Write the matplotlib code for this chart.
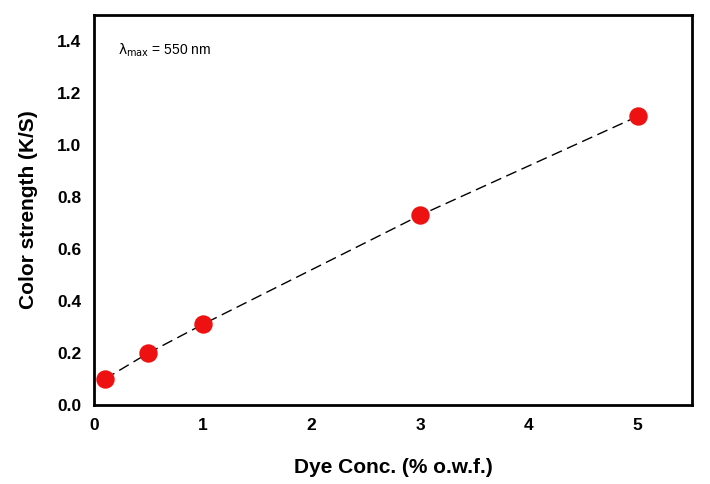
import matplotlib.pyplot as plt

plt.rcParams['font.family'] = ['Liberation Sans', 'DejaVu Sans']

# Dye concentration (% o.w.f.) vs colour strength
conc = [0.1, 0.5, 1.0, 3.0, 5.0]
ks = [0.10, 0.20, 0.31, 0.73, 1.11]

fig = plt.figure(figsize=(7.1, 4.84), dpi=100)
ax = fig.add_axes([0.1324, 0.1632, 0.8422, 0.8058])

ax.plot(conc, ks, color='black', lw=1, dashes=(8, 4), zorder=1)
ax.scatter(conc, ks, s=150, color='#ee1111', zorder=2)

ax.set_xlim(0, 5.5)
ax.set_ylim(0, 1.5)
ax.set_xticks([0, 1, 2, 3, 4, 5])
ax.set_yticks([0.0, 0.2, 0.4, 0.6, 0.8, 1.0, 1.2, 1.4])
ax.set_yticklabels(['0.0', '0.2', '0.4', '0.6', '0.8', '1.0', '1.2', '1.4'])
ax.tick_params(length=0, labelsize=12.5, pad=9)
for lab in ax.get_xticklabels() + ax.get_yticklabels():
    lab.set_fontweight('bold')
for sp in ax.spines.values():
    sp.set_linewidth(2)

ax.set_xlabel('Dye Conc. (% o.w.f.)', fontsize=15, fontweight='bold', labelpad=18)
ax.set_ylabel('Color strength (K/S)', fontsize=15, fontweight='bold', labelpad=14)

ax.text(0.22, 1.365, r'$\mathrm{\lambda_{max}}$ = 550 nm', fontsize=10, va='center')

fig.savefig('out.png', dpi=100)
